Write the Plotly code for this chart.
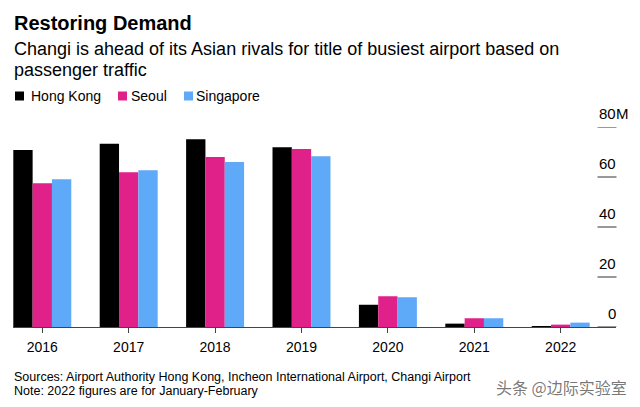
import plotly.graph_objects as go

# ---- data ----
years = ["2016", "2017", "2018", "2019", "2020", "2021", "2022"]
hong_kong = [70.8, 73.3, 75.1, 71.9, 8.9, 1.35, 0.2]
seoul = [57.5, 61.9, 68.0, 71.2, 12.3, 3.5, 0.95]
singapore = [59.1, 62.7, 66.0, 68.3, 11.9, 3.5, 1.75]
series_names = ["Hong Kong", "Seoul", "Singapore"]
series_colors = ["#000000", "#E0218A", "#5FA9F9"]
y_ticks = [0, 20, 40, 60, 80]
y_tick_labels = ["0", "20", "40", "60", "80"]
y_unit = "M"

title = "Restoring Demand"
subtitle_lines = ["Changi is ahead of its Asian rivals for title of busiest airport based on",
                  "passenger traffic"]
footnotes = ["Sources: Airport Authority Hong Kong, Incheon International Airport, Changi Airport",
             "Note: 2022 figures are for January-February"]
watermark = "头条 @边际实验室"

FONT = "Liberation Sans, Arial, Helvetica, sans-serif"

W, H = 640, 407
ML, MR, MT, MB = 13, 24, 127, 80
PW = W - ML - MR
PH = H - MT - MB


def px(x):
    return (x - ML) / PW


def py(y):
    return (H - MB - y) / PH


fig = go.Figure()
for name, vals, col in zip(series_names, [hong_kong, seoul, singapore], series_colors):
    fig.add_trace(go.Bar(x=years, y=vals, name=name, marker=dict(color=col, line=dict(width=0)),
                         showlegend=False, cliponaxis=False))

annotations = []
shapes = []

# title / subtitle
annotations.append(dict(text="<b>" + title + "</b>", x=px(12), y=py(23.5), xref="paper", yref="paper",
                        xanchor="left", yanchor="middle", showarrow=False,
                        font=dict(family=FONT, size=20, color="#000")))
for i, line in enumerate(subtitle_lines):
    annotations.append(dict(text=line, x=px(12), y=py(49 + 21 * i), xref="paper", yref="paper",
                            xanchor="left", yanchor="middle", showarrow=False,
                            font=dict(family=FONT, size=18, color="#000")))

# legend (manual)
leg_sq_x = [15, 118, 184]
leg_txt_x = [30, 130, 195]
for name, col, sx, tx in zip(series_names, series_colors, leg_sq_x, leg_txt_x):
    shapes.append(dict(type="rect", xref="paper", yref="paper", x0=px(sx), x1=px(sx + 9),
                       y0=py(100.5), y1=py(91.5), fillcolor=col, line=dict(width=0)))
    annotations.append(dict(text=name, x=px(tx - 1), y=py(96), xref="paper", yref="paper",
                            xanchor="left", yanchor="middle", showarrow=False,
                            font=dict(family=FONT, size=14, color="#000")))

# y tick labels and short tick lines on the right
for v, lab in zip(y_ticks, y_tick_labels):
    annotations.append(dict(text=lab, x=px(617.5), y=v, xref="paper", yref="y", xanchor="right",
                            yanchor="middle", yshift=14, showarrow=False,
                            font=dict(family=FONT, size=15, color="#000")))
    shapes.append(dict(type="line", xref="paper", yref="y", x0=px(597.5), x1=px(616.5), y0=v, y1=v,
                       line=dict(color="#333", width=1)))
annotations.append(dict(text=y_unit, x=px(613.5), y=y_ticks[-1], xref="paper", yref="y", xanchor="left",
                        yanchor="middle", yshift=14, showarrow=False,
                        font=dict(family=FONT, size=15, color="#000")))

# footnotes
for i, line in enumerate(footnotes):
    annotations.append(dict(text=line, x=px(12), y=py(376.5 + 14 * i), xref="paper", yref="paper",
                            xanchor="left", yanchor="middle", showarrow=False,
                            font=dict(family=FONT, size=12.5, color="#000")))

annotations.append(dict(text=watermark, x=px(629), y=py(387), xref="paper", yref="paper",
                        xanchor="right", yanchor="middle", showarrow=False,
                        font=dict(family="Noto Sans CJK SC, sans-serif", size=16, color="rgba(95,95,95,0.85)")))

fig.update_layout(
    width=W, height=H,
    margin=dict(l=ML, r=MR, t=MT, b=MB, pad=0),
    paper_bgcolor="white", plot_bgcolor="white",
    barmode="group", bargap=0.329, bargroupgap=0,
    font=dict(family=FONT, size=14, color="#000"),
    xaxis=dict(type="category", range=[-0.339, 6.64], showgrid=False, zeroline=False,
               showline=True, linecolor="#444", linewidth=1, layer="below traces",
               ticks="outside", ticklen=5, tickcolor="#444", tickwidth=1,
               tickfont=dict(family=FONT, size=14, color="#000"), ticklabelstandoff=2),
    yaxis=dict(range=[0, 80], showgrid=False, zeroline=False, showline=False,
               showticklabels=False, ticks=""),
    annotations=annotations, shapes=shapes,
)

fig.write_html("out.html")
